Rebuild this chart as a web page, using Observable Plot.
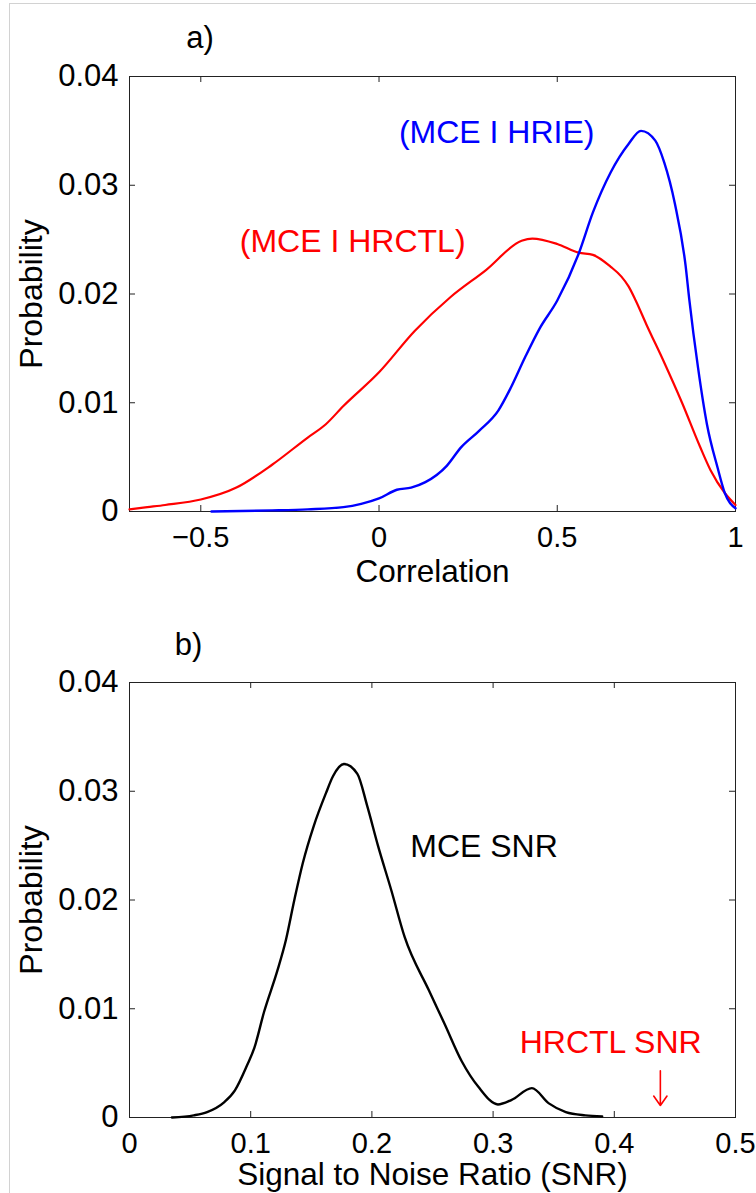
<!DOCTYPE html>
<html>
<head>
<meta charset="utf-8">
<script src="https://cdn.jsdelivr.net/npm/d3@7"></script>
<script src="https://cdn.jsdelivr.net/npm/@observablehq/plot@0.6"></script>
<style>
  body { margin: 0; background: white; }
  #wrap { position: relative; width: 756px; height: 1193px; overflow: hidden; background: white; }
  .panel { position: absolute; left: 0; }
  #border { position: absolute; left: 9px; top: 3px; width: 900px; height: 1400px;
            border-top: 1px solid #d2d2d2; border-left: 1px solid #d2d2d2; pointer-events: none; }
</style>
</head>
<body>
<div id="wrap">
  <div id="pa" class="panel" style="top:0"></div>
  <div id="pb" class="panel" style="top:600px"></div>
  <div id="border"></div>
</div>
<script>
// ---------- Panel a data ----------
const hrctlX = [-0.7, -0.65, -0.6, -0.5, -0.4, -0.3, -0.2, -0.15, -0.1, 0, 0.1, 0.2, 0.3, 0.4, 0.43, 0.5, 0.56, 0.6, 0.65, 0.68, 0.7, 0.72, 0.75, 0.8, 0.85, 0.9, 0.93, 0.97, 1.0];
const hrctlY = [0.0002, 0.0004, 0.0006, 0.0011, 0.0022, 0.0043, 0.0068, 0.0080, 0.0097, 0.0128, 0.0166, 0.0197, 0.0222, 0.0249, 0.0251, 0.0246, 0.0238, 0.0236, 0.0225, 0.0216, 0.0207, 0.0194, 0.0172, 0.0137, 0.0100, 0.0060, 0.0038, 0.0017, 0.0006];
const hrieX = [-0.47, -0.3, -0.2, -0.1, -0.05, 0, 0.05, 0.09, 0.13, 0.19, 0.23, 0.28, 0.335, 0.37, 0.41, 0.45, 0.5, 0.56, 0.6, 0.65, 0.7, 0.735, 0.775, 0.8, 0.83, 0.86, 0.87, 0.895, 0.92, 0.95, 0.97, 1.0];
const hrieY = [0, 0.0001, 0.0002, 0.0004, 0.0007, 0.0012, 0.0020, 0.0022, 0.0027, 0.0042, 0.0059, 0.0074, 0.0093, 0.0114, 0.0142, 0.0168, 0.0194, 0.0237, 0.0275, 0.0312, 0.0338, 0.0350, 0.0341, 0.0321, 0.0283, 0.0226, 0.0196, 0.0132, 0.0080, 0.0040, 0.0017, 0.0003];
const xTicksA = [-0.5, 0, 0.5, 1];
const xTickLabelsA = ["\u22120.5", "0", "0.5", "1"];
const yTicks = [0, 0.01, 0.02, 0.03, 0.04];
const yTickLabels = ["0", "0.01", "0.02", "0.03", "0.04"];
const annotA = ["(MCE I HRCTL)", "(MCE I HRIE)"];
const annotAX = [-0.074, 0.33];
const annotAY = [0.0248, 0.0348];
const annotAColor = ["#ff0000", "#0000ff"];

// ---------- Panel b data ----------
const snrX = [0.035, 0.053, 0.064, 0.078, 0.087, 0.097, 0.103, 0.111, 0.122, 0.129, 0.136, 0.143, 0.152, 0.162, 0.168, 0.177, 0.188, 0.196, 0.205, 0.216, 0.227, 0.247, 0.26, 0.274, 0.288, 0.304, 0.315, 0.332, 0.346, 0.36, 0.376, 0.39];
const snrY = [0, 0.0002, 0.0005, 0.0014, 0.0025, 0.0048, 0.0064, 0.0097, 0.0135, 0.0163, 0.0200, 0.0234, 0.0268, 0.0298, 0.0314, 0.0325, 0.0316, 0.0287, 0.0250, 0.0209, 0.0166, 0.0117, 0.0086, 0.0052, 0.0028, 0.0012, 0.0016, 0.0027, 0.0013, 0.0005, 0.0002, 0.0001];
const xTicksB = [0, 0.1, 0.2, 0.3, 0.4, 0.5];
const xTickLabelsB = ["0", "0.1", "0.2", "0.3", "0.4", "0.5"];
const annotB = ["MCE SNR", "HRCTL SNR"];
const annotBX = [0.2925, 0.397];
const annotBY = [0.0249, 0.0069];
const annotBColor = ["#000000", "#ff0000"];
const hrctlSnr = 0.438;
const arrowY = [0.0043, 0.0011];

const FONT = "'Liberation Sans', Arial, Helvetica, sans-serif";

function panel({xDomain, xTicks, xLabels, title, titleDx, titleDy, xLabel, xLabelDy, lines, annot, extra, height, marginTop, marginBottom}) {
  const yDomain = [0, 0.04];
  const tickLenX = (yDomain[1] - yDomain[0]) * 6 / 435;
  const tickLenY = (xDomain[1] - xDomain[0]) * 6 / 606;
  return Plot.plot({
    width: 756, height, marginLeft: 129, marginRight: 21, marginTop, marginBottom,
    x: {domain: xDomain, label: null},
    y: {domain: yDomain, label: null},
    style: {fontFamily: FONT, fontSize: "30px", color: "black", background: "transparent", overflow: "visible"},
    marks: [
      Plot.frame({stroke: "#222", strokeWidth: 1}),
      // inward tick marks on all four sides
      Plot.ruleX(xTicks, {x: d => d, y1: yDomain[0], y2: yDomain[0] + tickLenX, stroke: "#222"}),
      Plot.ruleX(xTicks, {x: d => d, y1: yDomain[1], y2: yDomain[1] - tickLenX, stroke: "#222"}),
      Plot.ruleY(yTicks, {y: d => d, x1: xDomain[0], x2: xDomain[0] + tickLenY, stroke: "#222"}),
      Plot.ruleY(yTicks, {y: d => d, x1: xDomain[1], x2: xDomain[1] - tickLenY, stroke: "#222"}),
      Plot.axisX(xTicks, {tickSize: 0, tickPadding: 15, tickFormat: d => xLabels[xTicks.indexOf(d)], fontSize: 29}),
      Plot.axisY(yTicks, {tickSize: 0, tickPadding: 11, tickFormat: d => yTickLabels[yTicks.indexOf(d)], fontSize: 31}),
      ...lines,
      Plot.text(annot.labels, {x: (d, i) => annot.x[i], y: (d, i) => annot.y[i], fill: (d, i) => annot.color[i], fontSize: 32, textAnchor: "middle", lineAnchor: "middle"}),
      ...extra,
      Plot.text([title], {frameAnchor: "top-left", dx: titleDx, dy: titleDy, fontSize: 31, textAnchor: "middle", lineAnchor: "middle"}),
      Plot.text([xLabel], {frameAnchor: "bottom", dy: xLabelDy, fontSize: 31.5, textAnchor: "middle", lineAnchor: "middle"}),
      Plot.text(["Probability"], {frameAnchor: "left", rotate: -90, dx: -98, fontSize: 32, textAnchor: "middle", lineAnchor: "middle"})
    ]
  });
}

const redData = hrctlX.map((x, i) => ({x, y: hrctlY[i]}));
const blueData = hrieX.map((x, i) => ({x, y: hrieY[i]}));
const blackData = snrX.map((x, i) => ({x, y: snrY[i]}));

const chartA = panel({
  xDomain: [-0.7, 1], xTicks: xTicksA, xLabels: xTickLabelsA,
  title: "a)", titleDx: 70.5, titleDy: -38, xLabel: "Correlation", xLabelDy: 60,
  height: 600, marginTop: 76, marginBottom: 89,
  lines: [
    Plot.line(redData, {x: "x", y: "y", stroke: "#ff0000", strokeWidth: 2.2, curve: "monotone-x"}),
    Plot.line(blueData, {x: "x", y: "y", stroke: "#0000ff", strokeWidth: 2.4, curve: "monotone-x"})
  ],
  annot: {labels: annotA, x: annotAX, y: annotAY, color: annotAColor},
  extra: []
});

const chartB = panel({
  xDomain: [0, 0.5], xTicks: xTicksB, xLabels: xTickLabelsB,
  title: "b)", titleDx: 59, titleDy: -37, xLabel: "Signal to Noise Ratio (SNR)", xLabelDy: 57,
  height: 593, marginTop: 82, marginBottom: 76,
  lines: [
    Plot.line(blackData, {x: "x", y: "y", stroke: "#000000", strokeWidth: 2.4, curve: "monotone-x"})
  ],
  annot: {labels: annotB, x: annotBX, y: annotBY, color: annotBColor},
  extra: [
    Plot.arrow([hrctlSnr], {x1: d => d, x2: d => d, y1: arrowY[0], y2: arrowY[1], stroke: "#ff0000", strokeWidth: 1.6, headLength: 12, headAngle: 70})
  ]
});

document.getElementById("pa").appendChild(chartA);
document.getElementById("pb").appendChild(chartB);
</script>
</body>
</html>
